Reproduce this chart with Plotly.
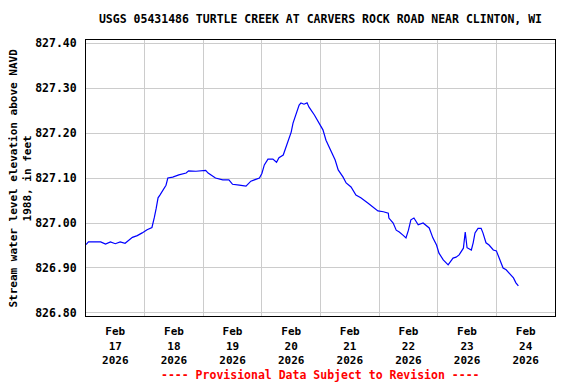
import plotly.graph_objects as go

times = [
    "2026-02-17 00:00", "2026-02-17 01:00", "2026-02-17 06:00", "2026-02-17 08:00",
    "2026-02-17 10:00", "2026-02-17 12:00", "2026-02-17 14:00", "2026-02-17 16:00",
    "2026-02-17 19:00", "2026-02-17 21:00", "2026-02-17 23:00", "2026-02-18 01:00",
    "2026-02-18 03:00", "2026-02-18 03:30", "2026-02-18 04:00", "2026-02-18 04:45",
    "2026-02-18 05:30", "2026-02-18 06:15", "2026-02-18 07:30", "2026-02-18 08:45",
    "2026-02-18 09:30", "2026-02-18 11:30", "2026-02-18 14:00", "2026-02-18 17:00",
    "2026-02-18 18:00", "2026-02-18 21:00", "2026-02-19 01:00", "2026-02-19 02:00",
    "2026-02-19 05:00", "2026-02-19 08:00", "2026-02-19 10:30", "2026-02-19 12:00",
    "2026-02-19 14:45", "2026-02-19 17:30", "2026-02-19 19:30", "2026-02-19 21:30",
    "2026-02-19 23:00", "2026-02-20 00:00", "2026-02-20 01:00", "2026-02-20 02:30",
    "2026-02-20 04:30", "2026-02-20 06:00", "2026-02-20 07:00", "2026-02-20 08:45",
    "2026-02-20 09:30", "2026-02-20 10:45", "2026-02-20 12:00", "2026-02-20 12:45",
    "2026-02-20 14:00", "2026-02-20 15:15", "2026-02-20 16:00", "2026-02-20 17:15",
    "2026-02-20 18:30", "2026-02-20 19:15", "2026-02-20 21:30", "2026-02-20 23:30",
    "2026-02-21 01:00", "2026-02-21 02:15", "2026-02-21 04:30", "2026-02-21 06:00",
    "2026-02-21 07:15", "2026-02-21 09:15", "2026-02-21 10:30", "2026-02-21 12:30",
    "2026-02-21 14:30", "2026-02-21 16:30", "2026-02-21 19:30", "2026-02-21 21:30",
    "2026-02-21 23:30", "2026-02-22 01:45", "2026-02-22 03:45", "2026-02-22 04:00",
    "2026-02-22 05:45", "2026-02-22 07:00", "2026-02-22 08:15", "2026-02-22 09:45",
    "2026-02-22 11:00", "2026-02-22 12:00", "2026-02-22 13:00", "2026-02-22 14:15",
    "2026-02-22 16:00", "2026-02-22 18:00", "2026-02-22 20:30", "2026-02-22 22:00",
    "2026-02-22 23:30", "2026-02-23 00:30", "2026-02-23 02:15", "2026-02-23 04:15",
    "2026-02-23 06:15", "2026-02-23 07:30", "2026-02-23 08:45", "2026-02-23 10:30",
    "2026-02-23 11:15", "2026-02-23 12:00", "2026-02-23 13:45", "2026-02-23 14:30",
    "2026-02-23 15:15", "2026-02-23 16:30", "2026-02-23 17:45", "2026-02-23 18:30",
    "2026-02-23 19:45", "2026-02-23 21:00", "2026-02-23 22:45", "2026-02-24 00:00",
    "2026-02-24 01:15", "2026-02-24 02:45", "2026-02-24 04:00", "2026-02-24 05:15",
    "2026-02-24 07:00", "2026-02-24 08:00", "2026-02-24 09:00",
]

levels = [
    826.952, 826.958, 826.958, 826.953,
    826.958, 826.954, 826.958, 826.955,
    826.968, 826.972, 826.978, 826.985,
    826.990, 827.000, 827.013, 827.033,
    827.056, 827.062, 827.073, 827.084,
    827.100, 827.102, 827.107, 827.111,
    827.116, 827.115, 827.117, 827.111,
    827.100, 827.096, 827.096, 827.086,
    827.084, 827.082, 827.093, 827.097,
    827.100, 827.110, 827.129, 827.142,
    827.142, 827.135, 827.145, 827.151,
    827.162, 827.180, 827.202, 827.222,
    827.244, 827.262, 827.267, 827.264,
    827.267, 827.258, 827.240, 827.222,
    827.207, 827.184, 827.158, 827.140,
    827.118, 827.102, 827.089, 827.080,
    827.062, 827.056, 827.044, 827.036,
    827.027, 827.025, 827.022, 827.011,
    827.000, 826.984, 826.980, 826.973,
    826.967, 826.984, 827.007, 827.011,
    826.996, 827.000, 826.989, 826.967,
    826.951, 826.933, 826.918, 826.907,
    826.922, 826.924, 826.929, 826.944,
    826.980, 826.945, 826.940, 826.956,
    826.978, 826.988, 826.988, 826.978,
    826.956, 826.951, 826.940, 826.938,
    826.922, 826.900, 826.896, 826.889,
    826.878, 826.867, 826.860,
]

title_text = "USGS 05431486 TURTLE CREEK AT CARVERS ROCK ROAD NEAR CLINTON, WI"
y_title = "Stream water level elevation above NAVD<br>1988, in feet"
footer = "---- Provisional Data Subject to Revision ----"
y_ticks = [826.80, 826.90, 827.00, 827.10, 827.20, 827.30, 827.40]

FONT = "DejaVu Sans Mono"
fs = 11.5

# page body has an 8px default margin, so the figure is offset by 8px
W, H = 568, 376
ML, MR, MT, MB = 78, 21, 32, 68
PW = W - ML - MR
PH = H - MT - MB

fig = go.Figure()
fig.add_trace(go.Scatter(
    x=times, y=levels, mode="lines",
    line=dict(color="#0000ff", width=1.2),
    hoverinfo="x+y", showlegend=False,
))

fig.update_layout(
    width=W, height=H,
    margin=dict(l=ML, r=MR, t=MT, b=MB, autoexpand=False),
    paper_bgcolor="white", plot_bgcolor="white",
    font=dict(family=FONT, size=fs, color="black", weight="bold"),
    title=dict(text=title_text, x=0.5, xref="paper", xanchor="center",
               y=1 - 11 / H, yanchor="middle",
               font=dict(family=FONT, size=fs, color="black", weight="bold")),
    xaxis=dict(
        range=["2026-02-17 00:00", "2026-02-25 00:00"],
        type="date", dtick=86400000, tick0="2026-02-17",
        ticklabelmode="period", tickformat="%b<br>%d<br>%Y",
        showgrid=True, gridcolor="#cccccc", gridwidth=1,
        showline=True, linecolor="black", linewidth=1, mirror=True,
        ticks="", zeroline=False, ticklabelstandoff=5, automargin=False,
        tickfont=dict(family=FONT, size=11, color="black", weight="bold"),
    ),
    yaxis=dict(
        range=[826.7933, 827.4067],
        tickvals=y_ticks, tickformat=".2f",
        showgrid=True, gridcolor="#cccccc", gridwidth=1,
        showline=True, linecolor="black", linewidth=1, mirror=True,
        ticks="", zeroline=False, ticklabelstandoff=6, automargin=False,
        tickfont=dict(family=FONT, size=fs, color="black", weight="bold"),
    ),
    annotations=[
        dict(
            text=footer, xref="paper", yref="paper", x=0.5, y=-59 / PH,
            xanchor="center", yanchor="middle", showarrow=False,
            font=dict(family=FONT, size=fs, color="red", weight="bold"),
        ),
        dict(
            text=y_title, xref="paper", yref="paper",
            x=(11.5 - ML) / PW, y=0.5, textangle=-90,
            xanchor="center", yanchor="middle", showarrow=False,
            font=dict(family=FONT, size=11, color="black", weight="bold"),
        ),
    ],
)

fig.write_html("out.html")
